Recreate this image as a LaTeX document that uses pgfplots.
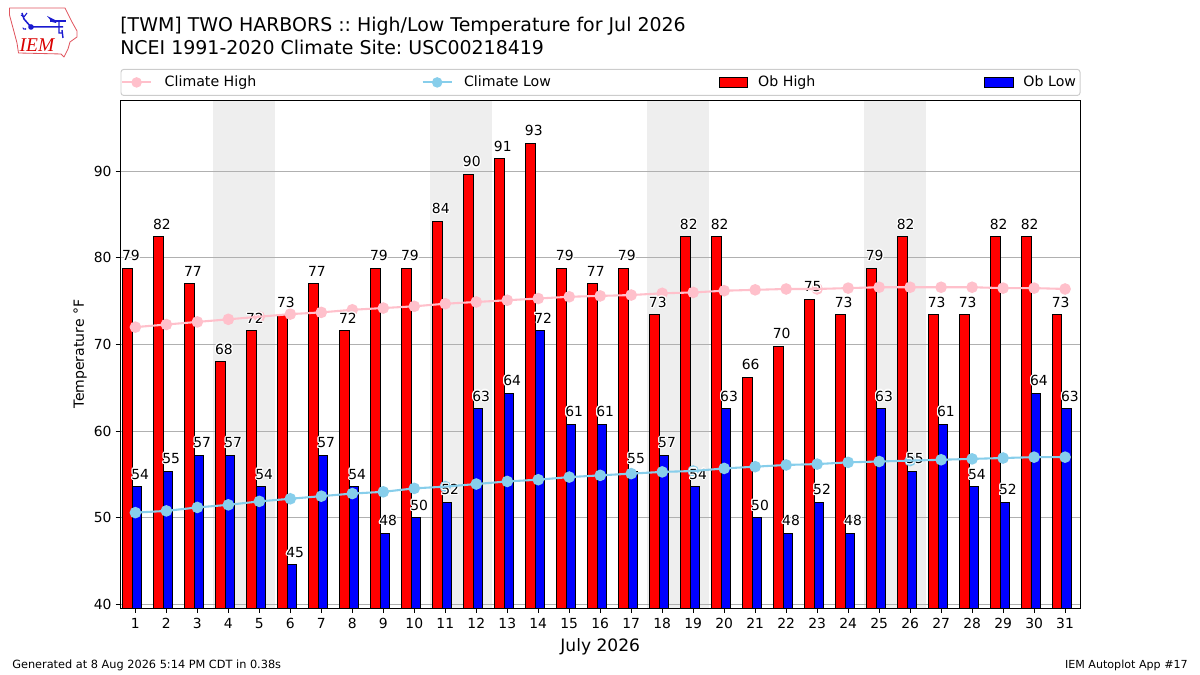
\documentclass[border=0pt]{standalone}
\usepackage{fontspec}
\setmainfont{DejaVu Sans}
\newfontfamily\logofont{Liberation Serif}
\usepackage{pgfplots}
\usepackage{pgfplotstable}
\usepackage{contour}
\pgfplotsset{compat=1.18}
\contourlength{0.8pt}
\frenchspacing

\definecolor{bandgray}{HTML}{EEEEEE}
\definecolor{gridgray}{HTML}{B0B0B0}
\definecolor{climhigh}{HTML}{FFC0CB}
\definecolor{climlow}{HTML}{87CEEB}
\definecolor{logored}{HTML}{E0565F}
\definecolor{logoblue}{HTML}{1A1AD0}

% day, observed high/low, climate high/low (degrees F)
\pgfplotstableread{
day high low chigh clow
1 78.8 53.6 72.0 50.6
2 82.4 55.4 72.3 50.8
3 77.0 57.2 72.6 51.2
4 68.0 57.2 72.9 51.5
5 71.6 53.6 73.2 51.9
6 73.4 44.6 73.5 52.2
7 77.0 57.2 73.7 52.5
8 71.6 53.6 74.0 52.8
9 78.8 48.2 74.2 53.0
10 78.8 50.0 74.4 53.4
11 84.2 51.8 74.7 53.6
12 89.6 62.6 74.9 53.9
13 91.4 64.4 75.1 54.2
14 93.2 71.6 75.3 54.4
15 78.8 60.8 75.5 54.7
16 77.0 60.8 75.6 54.9
17 78.8 55.4 75.7 55.1
18 73.4 57.2 75.9 55.3
19 82.4 53.6 76.0 55.4
20 82.4 62.6 76.2 55.7
21 66.2 50.0 76.3 55.9
22 69.8 48.2 76.4 56.1
23 75.2 51.8 76.4 56.2
24 73.4 48.2 76.5 56.4
25 78.8 62.6 76.6 56.5
26 82.4 55.4 76.6 56.6
27 73.4 60.8 76.6 56.7
28 73.4 53.6 76.6 56.8
29 82.4 51.8 76.5 56.9
30 82.4 64.4 76.5 57.0
31 73.4 62.6 76.4 57.0
}\daydata

\pgfplotsset{
  layers/chart/.define layer set={axis background,main,axis grid,axis ticks,axis lines,axis tick labels,climate,labels,axis descriptions,axis foreground}{},
  set layers=chart,
  /pgf/number format/assume math mode=true,
  linelegend/.style={legend image code/.code={
      \draw[#1,line width=1.5pt] (0pt,0pt) -- (21pt,0pt);
      \fill[#1] (10.5pt,0pt) circle (3.4pt);}},
  barlegend/.style={legend image code/.code={
      \draw[black,fill=#1,line width=0.7pt,sharp corners] (0.4pt,-3.6pt) rectangle (20.6pt,3.6pt);}},
  barlabel/.style={
      draw=none, mark=none, forget plot, on layer=labels,
      nodes near coords={\contour{white}{\pgfmathprintnumber[fixed,precision=0]{\pgfplotspointmeta}}},
      every node near coord/.append style={anchor=south,inner sep=0pt,yshift=4.3pt,xshift=#1,font=\fontsize{10}{12}\selectfont,text=black}},
}

\begin{document}
\begin{tikzpicture}
\begin{axis}[
    at={(86.76pt,48.24pt)}, anchor=south west,
    scale only axis,
    width=690.8pt, height=365.76pt,
    xmin=0.52, xmax=31.48,
    ymin=39.6, ymax=98.2,
    xtick={1,2,...,31},
    ytick={40,50,60,70,80,90},
    tick pos=left, tick align=outside,
    major tick length=3.5pt,
    tick style={black,line width=0.6pt},
    axis line style={black,line width=0.6pt},
    ymajorgrids,
    grid style={gridgray,line width=0.72pt},
    tick label style={font=\fontsize{10}{12}\selectfont},
    xticklabel style={inner sep=0pt,yshift=-3.5pt},
    yticklabel style={inner sep=0pt,xshift=-2.8pt},
    xlabel={July 2026},
    xlabel style={font=\fontsize{12.3}{14}\selectfont,at={(axis description cs:0.5,0)},anchor=base,yshift=-31.6pt},
    ylabel={Temperature °F},
    ylabel style={font=\fontsize{10.1}{12}\selectfont,at={(axis description cs:0,0.5)},anchor=base,rotate=0,yshift=26.4pt},
    legend columns=4,
    legend cell align=left,
    legend style={
        at={(axis description cs:0,1)}, anchor=south west, yshift=2.9pt,
        draw=black!20, line width=0.7pt, rounded corners=2pt,
        inner xsep=0pt, inner ysep=4.6pt,
        font=\fontsize{10.2}{12}\selectfont,
        nodes={inner sep=0pt,text height=7.6pt,text depth=2pt},
        /tikz/column sep=0pt,
    },
]
% weekends
\addplot[fill=bandgray,draw=none,forget plot,on layer=axis background] coordinates {(3.5,39.6) (5.5,39.6) (5.5,98.2) (3.5,98.2)} --cycle;
\addplot[fill=bandgray,draw=none,forget plot,on layer=axis background] coordinates {(10.5,39.6) (12.5,39.6) (12.5,98.2) (10.5,98.2)} --cycle;
\addplot[fill=bandgray,draw=none,forget plot,on layer=axis background] coordinates {(17.5,39.6) (19.5,39.6) (19.5,98.2) (17.5,98.2)} --cycle;
\addplot[fill=bandgray,draw=none,forget plot,on layer=axis background] coordinates {(24.5,39.6) (26.5,39.6) (26.5,98.2) (24.5,98.2)} --cycle;

% legend comes first, plots below are drawn in a different order
\addlegendimage{linelegend=climhigh}
\addlegendentry{\makebox[193.9pt][l]{\hspace{9pt}Climate High}}
\addlegendimage{linelegend=climlow}
\addlegendentry{\makebox[191.4pt][l]{\hspace{8.1pt}Climate Low}}
\addlegendimage{barlegend=red}
\addlegendentry{\makebox[170.5pt][l]{\hspace{7.6pt}Ob High}}
\addlegendimage{barlegend=blue}
\addlegendentry{\makebox[47.9pt][l]{\hspace{7.2pt}Ob Low}}

% bars
\addplot[ybar,bar width=0.3,bar shift=-0.25,fill=red,draw=black,line width=0.7pt,forget plot] table[x=day,y=high] {\daydata};
\addplot[ybar,bar width=0.3,bar shift=0.05,fill=blue,draw=black,line width=0.7pt,forget plot] table[x=day,y=low] {\daydata};

% climate lines
\addplot[climhigh,line width=1.5pt,mark=*,mark size=3.4pt,mark options={draw=none,fill=climhigh},forget plot,on layer=climate] table[x=day,y=chigh] {\daydata};
\addplot[climlow,line width=1.5pt,mark=*,mark size=3.4pt,mark options={draw=none,fill=climlow},forget plot,on layer=climate] table[x=day,y=clow] {\daydata};

% value labels
\addplot[barlabel=-3.2pt] table[x=day,y=high] {\daydata};
\addplot[barlabel=3.5pt] table[x=day,y=low] {\daydata};
\end{axis}

\path[use as bounding box] (0,0) rectangle (864pt,486pt);
% everything below in image pixels, origin top left
\begin{scope}[x=0.72pt,y=-0.72pt,yshift=486pt]
\node[anchor=base west,inner sep=0pt,font=\fontsize{13.65}{16}\selectfont] at (120,32) {[TWM] TWO HARBORS :: High/Low Temperature for Jul 2026};
\node[anchor=base west,inner sep=0pt,font=\fontsize{13.65}{16}\selectfont] at (120,55) {NCEI 1991-2020 Climate Site: USC00218419};
\node[anchor=base west,inner sep=0pt,font=\fontsize{8.15}{10}\selectfont] at (12,669) {Generated at 8 Aug 2026 5:14 PM CDT in 0.38s};
\node[anchor=base east,inner sep=0pt,font=\fontsize{8}{10}\selectfont] at (1188,669) {IEM Autoplot App \#17};
% logo
\draw[logored,line width=0.6pt,line join=round] (9.5,8) -- (65,8) -- (68,14) -- (72,22) -- (77,31) -- (77,37) -- (70,42) -- (68,49) -- (64,57) -- (61,54) -- (18.5,53) -- (17,43) -- (13,28) -- (9.5,15) -- cycle;
\draw[logoblue,line width=1.1pt] (22,13) -- (24,19) -- (31,27) -- (63,27);
\draw[logoblue,line width=0.8pt] (21,15) -- (24,17) (27,13) -- (24,17);
\fill[logoblue] (31,27) circle (2.8);
\fill[logoblue] (47,16) -- (57,21) -- (56,23) -- (52,22) -- cycle;
\draw[logoblue,line width=1pt] (50,21) -- (66,21);
\draw[logoblue,line width=1pt] (59,21) -- (59,33) -- (63,33) (62,30) -- (63,38);
\fill[logoblue] (24,29) circle (0.8) (25.5,29) circle (0.8) (23,28) circle (0.7);
\node[inner sep=0pt,text=red!85!black,font=\logofont\itshape\fontsize{14}{14}\selectfont] at (37,45) {IEM};
\end{scope}
\end{tikzpicture}
\end{document}
